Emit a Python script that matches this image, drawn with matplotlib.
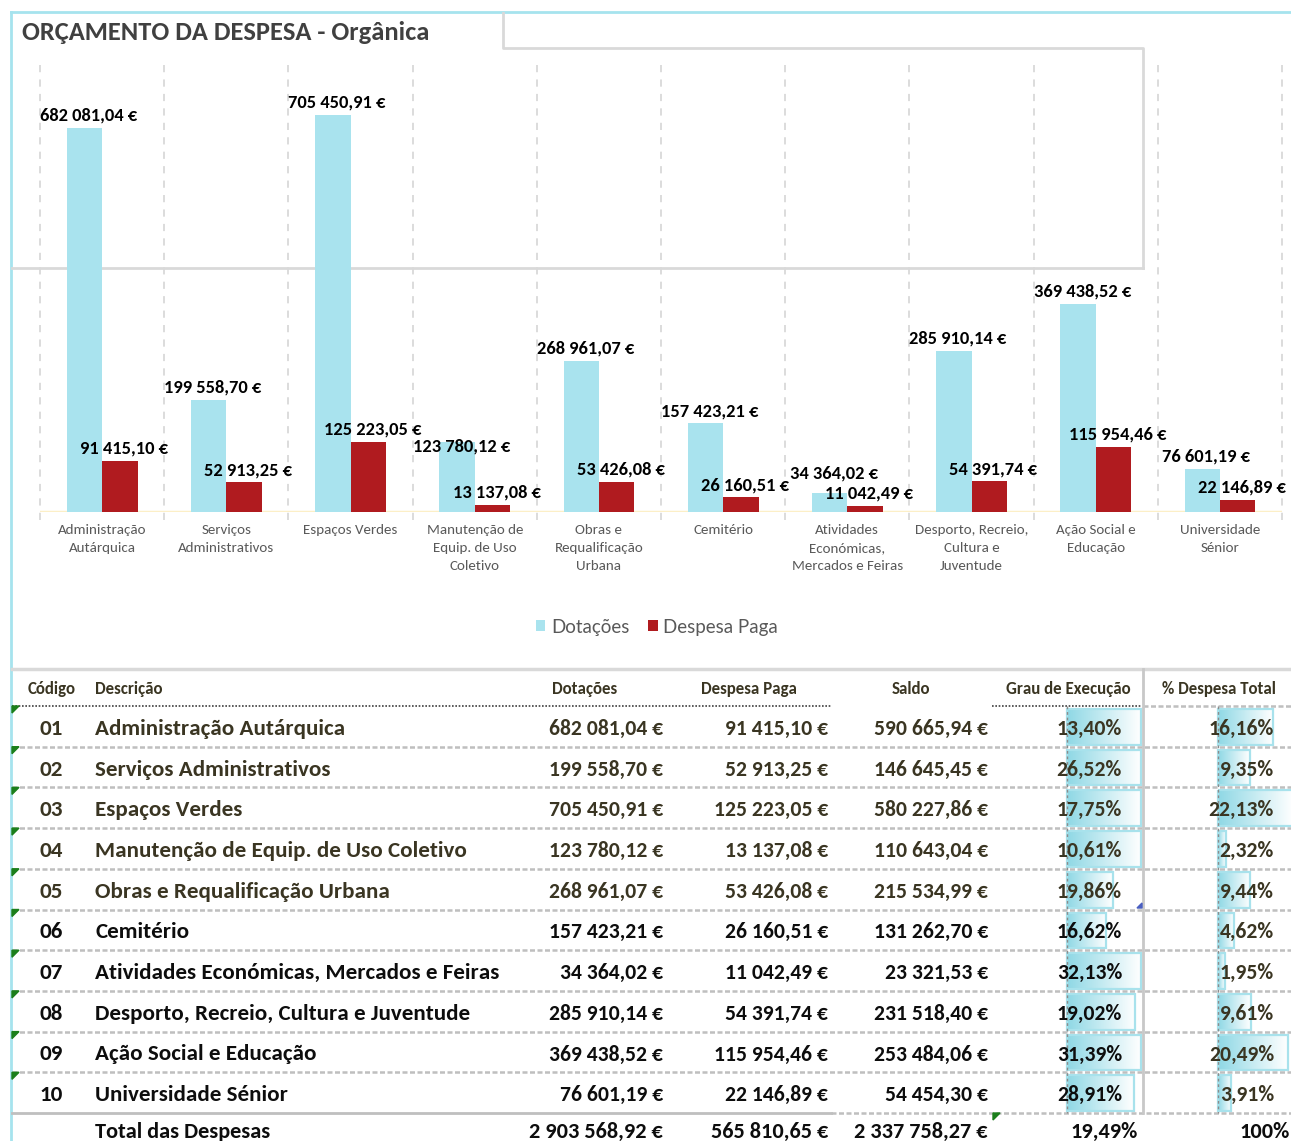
import numpy as np
import matplotlib
matplotlib.use('Agg')
import matplotlib.pyplot as plt
from matplotlib.colors import LinearSegmentedColormap
from matplotlib.patches import Polygon, Rectangle

plt.rcParams['font.family'] = ['Carlito', 'DejaVu Sans']

# data read from the sheet
codigos = ['01', '02', '03', '04', '05', '06', '07', '08', '09', '10']
descricoes = ['Administração Autárquica', 'Serviços Administrativos', 'Espaços Verdes',
              'Manutenção de Equip. de Uso Coletivo', 'Obras e Requalificação Urbana', 'Cemitério',
              'Atividades Económicas, Mercados e Feiras', 'Desporto, Recreio, Cultura e Juventude',
              'Ação Social e Educação', 'Universidade Sénior']
cat_labels = ['Administração\nAutárquica', 'Serviços\nAdministrativos', 'Espaços Verdes',
              'Manutenção de\nEquip. de Uso\nColetivo', 'Obras e\nRequalificação\nUrbana', 'Cemitério',
              'Atividades\nEconómicas,\nMercados e Feiras', 'Desporto, Recreio,\nCultura e\nJuventude',
              'Ação Social e\nEducação', 'Universidade\nSénior']
dotacoes = [682081.04, 199558.70, 705450.91, 123780.12, 268961.07, 157423.21, 34364.02, 285910.14, 369438.52, 76601.19]
despesa = [91415.10, 52913.25, 125223.05, 13137.08, 53426.08, 26160.51, 11042.49, 54391.74, 115954.46, 22146.89]
saldo = [590665.94, 146645.45, 580227.86, 110643.04, 215534.99, 131262.70, 23321.53, 231518.40, 253484.06, 54454.30]
grau = [13.40, 26.52, 17.75, 10.61, 19.86, 16.62, 32.13, 19.02, 31.39, 28.91]
pct_total = [16.16, 9.35, 22.13, 2.32, 9.44, 4.62, 1.95, 9.61, 20.49, 3.91]
grau_barra = [1, 1, 1, 1, 0.62, 0.53, 1, 0.92, 1, 0.9]  # data bar length as shown in the sheet
total_label = 'Total das Despesas'
totais = [2903568.92, 565810.65, 2337758.27, 19.49, 100]
headers = ['Código', 'Descrição', 'Dotações', 'Despesa Paga', 'Saldo', 'Grau de Execução', '% Despesa Total']
title = 'ORÇAMENTO DA DESPESA - Orgânica'


def eur(v):
    s = '{:,.2f}'.format(v)
    return s.replace(',', ' ').replace('.', ',') + ' €'


def pct(v):
    return '{:.2f}%'.format(v).replace('.', ',')


CYAN = '#A9E3EE'
RED = '#B01B1F'
OLIVE = '#3a3522'
BLACK = '#0d0d0d'
GRID = '#D9D9D9'

W, H = 1291, 1141
fig = plt.figure(figsize=(W / 100, H / 100), dpi=100)
renderer = fig.canvas.get_renderer()


def fit(text, target_px, **kw):
    # font size that gives the text the pixel width measured on the reference
    t = fig.text(0, 0, text, fontsize=10, **kw)
    w = t.get_window_extent(renderer).width
    t.remove()
    return 10 * target_px / w


fs_title = fit(title, 409, fontweight='bold')
fs_lab = fit(eur(dotacoes[0]), 97, fontweight='bold')
fs_cat = fit('Mercados e Feiras', 111)
fs_leg = fit('Dotações', 79, family='Lato')
fs_head = fit(headers[5], 124, fontweight='bold')
fs_desc = fit(descricoes[0], 249, fontweight='bold')
fs_num = fit(eur(saldo[0]), 114, fontweight='bold')
fs_tot = fit(eur(totais[2]), 133, fontweight='bold')

# background axes in pixel units (borders, title, table)
bg = fig.add_axes([0, 0, 1, 1], zorder=0)
bg.axis('off')

bg.plot([11, W], [12, 12], color='#A6E3EE', lw=2)
bg.plot([11, 11], [12, H], color='#A6E3EE', lw=2)
bg.plot([503, 503, 1143, 1143], [13, 48, 48, 268], color=GRID, lw=2)
bg.plot([12, 1143], [268, 268], color=GRID, lw=2)
bg.text(22, 33, title, fontsize=fs_title, fontweight='bold', color='#404040', ha='left', va='center')

# bar chart
ax = fig.add_axes([40 / W, 1 - 512 / H, 1242 / W, 452 / H], zorder=2)
ax.set_facecolor('none')
x = np.arange(len(dotacoes))
bw = 0.285
ax.bar(x - 0.142, dotacoes, bw, color=CYAN, label='Dotações', zorder=3)
ax.bar(x + 0.143, despesa, bw, color=RED, label='Despesa Paga', zorder=3)
lab_c, lab_r = [], []
for xi, v in zip(x - 0.142, dotacoes):
    lab_c.append(ax.annotate(eur(v), (xi, v), xytext=(3, 3), textcoords='offset points',
                             ha='center', va='bottom', fontsize=fs_lab, fontweight='bold',
                             color='black', zorder=4))
for xi, v in zip(x + 0.143, despesa):
    lab_r.append(ax.annotate(eur(v), (xi, v), xytext=(3, 3), textcoords='offset points',
                             ha='center', va='bottom', fontsize=fs_lab, fontweight='bold',
                             color='black', zorder=4))

for k in range(len(x) + 1):
    ax.axvline(k - 0.5, ymin=-0.018, ymax=1, color=GRID, lw=1.3, ls=(0, (4, 4)), clip_on=False, zorder=1)
ax.axhline(0, color='#FCEFC7', lw=2.5, zorder=2)
ax.set_xlim(-0.5, len(x) - 0.5)
ax.set_ylim(0, 803000)
ax.set_xticks(x, cat_labels, fontsize=fs_cat, color='#595959', linespacing=1.55)
ax.set_yticks([])
ax.tick_params(length=0, pad=9)
for s in ax.spines.values():
    s.set_visible(False)
ax.legend(loc='center', bbox_to_anchor=(657 / W, 1 - 627 / H), bbox_transform=fig.transFigure,
          ncol=2, frameon=False, prop=dict(family='Lato', size=fs_leg),
          labelcolor='#595959', handlelength=0.5, handleheight=0.5, handletextpad=0.3,
          columnspacing=1.0)

# lift a Dotações label when it would sit on the Despesa label of the same group
lifted = []
for a_c, a_r in zip(lab_c, lab_r):
    b_c = a_c.get_window_extent(renderer)
    b_r = a_r.get_window_extent(renderer)
    lifted.append(b_c.overlaps(b_r))
    if lifted[-1]:
        lift = (b_r.y1 - b_c.y0 + 4) * 72 / fig.dpi
        a_c.xyann = (3, 3 + lift)
# drop a Dotações label that runs into the Despesa label of the group to its left
for a_r, a_c, up in zip(lab_r[:-1], lab_c[1:], lifted[1:]):
    if up:
        continue
    b_r = a_r.get_window_extent(renderer)
    b_c = a_c.get_window_extent(renderer)
    if b_c.overlaps(b_r):
        drop = (b_c.y1 - b_r.y0 + 1) * 72 / fig.dpi
        a_c.xyann = (a_c.xyann[0], a_c.xyann[1] - drop)

# table
bg.plot([12, W], [669, 669], color=GRID, lw=2.5)
hy = 689
hkw = dict(va='center', fontsize=fs_head, fontweight='bold', color=OLIVE)
bg.text(52, hy, headers[0], ha='center', **hkw)
bg.text(95, hy, headers[1], ha='left', **hkw)
for hx, h in zip([585, 749, 911, 1068, 1219], headers[2:]):
    bg.text(hx, hy, h, ha='center', **hkw)

bg.plot([12, 831], [706, 706], color='#404040', lw=1.2, ls=(0, (1, 1)))
bg.plot([992, 1141], [706, 706], color='#404040', lw=1.2, ls=(0, (1, 1)))
bg.plot([1143, W], [706, 706], color='#BFBFBF', lw=1.8, ls=(0, (2, 1)))

ROW0, RH = 706, 40.7
cmap = LinearSegmentedColormap.from_list('databar', ['#8FD8E5', '#FFFFFF'])
grad = np.linspace(0, 1, 128).reshape(1, -1)
n = len(codigos)
for i in range(n):
    top = ROW0 + i * RH
    bot = top + RH
    yc = top + RH / 2 + 2.5
    if i > 0:
        bg.plot([12, W], [top, top], color='#BFBFBF', lw=1.8, ls=(0, (2, 1)))
    # data bars
    for x0, x1 in [(1067, 1067 + 74 * grau_barra[i]), (1218, 1218 + pct_total[i] * 3.4)]:
        bg.imshow(grad, cmap=cmap, extent=(x0, x1, bot - 2, top + 3), aspect='auto', zorder=1)
        bg.add_patch(Rectangle((x0, top + 3), x1 - x0, RH - 5, fill=False, ec='#A8E2EC', lw=1.6, zorder=2))
    col = OLIVE if i < 5 else BLACK
    tkw = dict(va='center', fontsize=fs_desc, fontweight='bold', zorder=5)
    nkw = dict(va='center', fontsize=fs_num, fontweight='bold', zorder=5)
    bg.text(51, yc, codigos[i], ha='center', color=col, **tkw)
    bg.text(95, yc, descricoes[i], ha='left', color=col, **tkw)
    bg.text(663, yc, eur(dotacoes[i]), ha='right', color=col, **nkw)
    bg.text(828, yc, eur(despesa[i]), ha='right', color=col, **nkw)
    bg.text(988, yc, eur(saldo[i]), ha='right', color=col, **nkw)
    bg.text(1122, yc, pct(grau[i]), ha='right', color=col, **nkw)
    bg.text(1274, yc, pct(pct_total[i]), ha='right', color=OLIVE, **nkw)
    bg.add_patch(Polygon([(12, top), (19, top), (12, top + 7)], closed=True, color='#1B7F1B', zorder=6))

tb = ROW0 + n * RH
bg.plot([12, 831], [tb, tb], color='#BFBFBF', lw=2)
bg.plot([831, W], [tb, tb], color='#BFBFBF', lw=1.8, ls=(0, (2, 1)))
bg.plot([1143, 1143], [669, tb], color='#C8C8C8', lw=2)
for vx in [1067, 1218]:
    bg.plot([vx, vx], [706, tb], color='#8C8C8C', lw=1, ls=(0, (2, 2)), zorder=3)
bg.add_patch(Polygon([(993, tb), (1000, tb), (993, tb + 7)], closed=True, color='#1B7F1B', zorder=6))
bg.add_patch(Polygon([(1137, 908), (1142, 903), (1142, 908)], closed=True, color='#4A5FC1', zorder=6))

ty = tb + 19
kw = dict(va='center', fontsize=fs_tot, fontweight='bold', color=BLACK)
bg.text(95, ty, total_label, ha='left', **kw)
bg.text(663, ty, eur(totais[0]), ha='right', **kw)
bg.text(828, ty, eur(totais[1]), ha='right', **kw)
bg.text(988, ty, eur(totais[2]), ha='right', **kw)
bg.text(1138, ty, pct(totais[3]), ha='right', **kw)
bg.text(1290, ty, '{:.0f}%'.format(totais[4]), ha='right', **kw)

bg.set_xlim(0, W)
bg.set_ylim(H, 0)

fig.savefig('out.png', dpi=100)
